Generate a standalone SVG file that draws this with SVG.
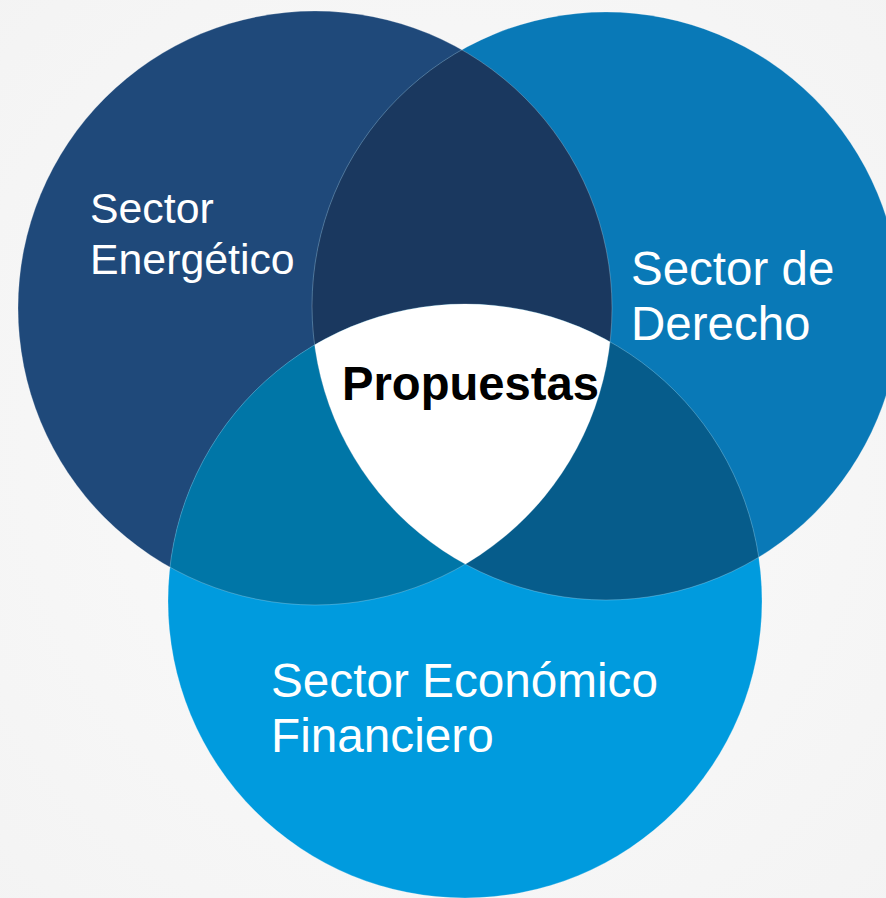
<svg xmlns="http://www.w3.org/2000/svg" width="886" height="898" viewBox="0 0 886 898">
  <style>
    .lbl { font-family: "Liberation Sans", Arial, sans-serif; fill: #FFFFFF; }
    .ctr { font-family: "Liberation Sans", Arial, sans-serif; font-weight: bold; fill: #000000; }
    .edge { fill: none; stroke: #FFFFFF; stroke-opacity: 0.3; stroke-width: 0.8; }
  </style>
  <defs>
    <radialGradient id="bg" cx="0.5" cy="0.5" r="0.75">
      <stop offset="0" stop-color="#FBFBFB"/>
      <stop offset="1" stop-color="#F3F3F3"/>
    </radialGradient>
    <clipPath id="clipL"><circle cx="315" cy="308" r="297"/></clipPath>
    <clipPath id="clipR"><circle cx="606" cy="306" r="294"/></clipPath>
  </defs>
  <rect x="0" y="0" width="886" height="898" fill="url(#bg)"/>

  <g id="circle-energetico">
    <circle cx="315" cy="308" r="297" fill="#1F497A"/>
  </g>
  <g id="circle-derecho">
    <circle cx="606" cy="306" r="294" fill="#0979B7"/>
  </g>
  <g id="circle-economico">
    <circle cx="465" cy="601" r="297" fill="#009BDE"/>
  </g>

  <g id="overlap-energetico-derecho" clip-path="url(#clipL)">
    <circle cx="606" cy="306" r="294" fill="#1A385F"/>
  </g>
  <g id="overlap-energetico-economico" clip-path="url(#clipL)">
    <circle cx="465" cy="601" r="297" fill="#0076A7"/>
  </g>
  <g id="overlap-derecho-economico" clip-path="url(#clipR)">
    <circle cx="465" cy="601" r="297" fill="#065C8B"/>
  </g>
  <g id="center-propuestas">
    <g clip-path="url(#clipL)">
      <g clip-path="url(#clipR)">
        <circle cx="465" cy="601" r="297" fill="#FFFFFF"/>
      </g>
    </g>
  </g>

  <g id="edges">
    <circle class="edge" cx="315" cy="308" r="297"/>
    <circle class="edge" cx="606" cy="306" r="294"/>
    <circle class="edge" cx="465" cy="601" r="297"/>
  </g>

  <g id="connectors"></g>

  <g id="labels">
    <text class="lbl" x="90" y="223" font-size="42.8">Sector</text>
    <text class="lbl" x="90" y="274" font-size="42.8">Energético</text>
    <text class="lbl" x="631" y="285" font-size="47.5">Sector de</text>
    <text class="lbl" x="631" y="340" font-size="47.5">Derecho</text>
    <text class="lbl" x="271" y="697" font-size="47.7">Sector Económico</text>
    <text class="lbl" x="271" y="752" font-size="47.7">Financiero</text>
    <text class="ctr" x="470.5" y="400" font-size="47.2" text-anchor="middle">Propuestas</text>
  </g>
</svg>
